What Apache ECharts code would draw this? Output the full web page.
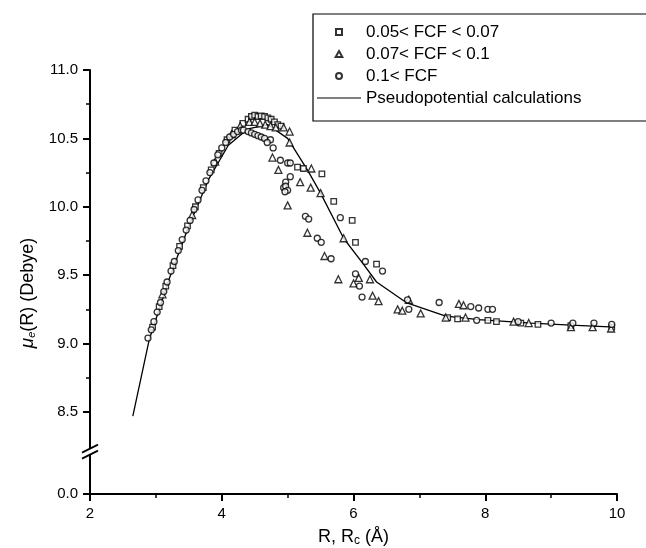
<!DOCTYPE html>
<html><head><meta charset="utf-8">
<script src="https://cdn.jsdelivr.net/npm/echarts@6/dist/echarts.min.js"></script>
<style>html,body{margin:0;padding:0;background:#fff}#c{width:646px;height:548px}</style>
</head><body><div id="c"></div>
<script>
// ---- data (x = R in Å, y = dipole in Debye) ----
const squares = [
  [2.95,9.12],[3.05,9.27],[3.15,9.42],[3.26,9.57],[3.36,9.71],[3.48,9.86],[3.60,10.0],[3.72,10.14],
  [3.84,10.27],[3.96,10.39],[4.08,10.49],[4.20,10.56],[4.32,10.61],[4.40,10.64],
  [4.45,10.66],[4.50,10.67],[4.55,10.66],[4.60,10.665],[4.65,10.66],[4.70,10.65],[4.75,10.64],
  [4.80,10.62],[4.85,10.60],[4.90,10.59],
  [5.15,10.29],[5.24,10.28],[5.52,10.24],[5.70,10.04],[5.98,9.90],[6.03,9.74],[6.35,9.58],
  [7.43,9.19],[7.58,9.18],[8.04,9.17],[8.17,9.16],[8.54,9.15],[8.80,9.14],[9.30,9.13],[9.92,9.12]
];
const triangles = [
  [3.10,9.36],[3.55,9.94],[3.90,10.33],[4.15,10.53],[4.28,10.59],
  [4.42,10.62],[4.50,10.62],[4.58,10.61],[4.66,10.60],[4.74,10.59],[4.82,10.58],[4.94,10.58],
  [5.03,10.55],[5.03,10.47],[4.77,10.36],[4.86,10.27],[5.19,10.18],[5.36,10.28],[5.35,10.14],
  [5.50,10.10],[5.00,10.01],[5.30,9.81],[5.56,9.64],[5.85,9.77],[5.77,9.47],[6.00,9.44],
  [6.08,9.48],[6.25,9.47],[6.29,9.35],[6.38,9.31],[6.67,9.25],[6.74,9.24],[6.84,9.32],
  [7.02,9.22],[7.40,9.19],[7.60,9.29],[7.67,9.28],[7.70,9.19],[8.43,9.16],[8.66,9.15],
  [9.30,9.12],[9.63,9.12],[9.91,9.11]
];
const circles = [
  [2.88,9.04],[2.93,9.10],[2.97,9.16],[3.02,9.23],[3.07,9.30],[3.12,9.38],[3.17,9.45],[3.23,9.53],
  [3.28,9.60],[3.34,9.68],[3.40,9.76],[3.46,9.83],[3.52,9.90],[3.58,9.98],[3.64,10.05],[3.70,10.12],
  [3.76,10.19],[3.82,10.25],[3.88,10.32],[3.94,10.38],[4.00,10.43],[4.06,10.47],[4.12,10.51],
  [4.18,10.53],[4.24,10.55],[4.30,10.56],
  [4.33,10.56],[4.40,10.55],[4.45,10.54],[4.50,10.53],[4.55,10.52],[4.60,10.51],[4.65,10.50],
  [4.74,10.49],[4.69,10.47],[4.78,10.43],[4.89,10.34],[5.00,10.32],[5.04,10.32],[4.97,10.18],
  [5.04,10.22],[4.94,10.14],[4.97,10.15],[5.00,10.12],[4.96,10.11],[5.27,9.93],[5.32,9.91],
  [5.45,9.77],[5.51,9.74],[5.66,9.62],[5.80,9.92],[6.03,9.51],[6.09,9.42],[6.13,9.34],
  [6.18,9.60],[6.44,9.53],[6.82,9.32],[6.84,9.25],[7.30,9.30],[7.78,9.27],[7.90,9.26],
  [8.04,9.25],[8.11,9.25],[7.87,9.17],[8.50,9.16],[9.00,9.15],[9.33,9.15],[9.65,9.15],[9.92,9.14]
];
const pseudo = [
  [2.65,8.47],[2.90,9.03],[3.20,9.47],[3.50,9.86],[3.80,10.2],[4.10,10.45],[4.40,10.57],
  [4.70,10.60],[5.00,10.50],[5.30,10.27],[5.50,10.10],[5.85,9.77],[6.15,9.58],[6.35,9.45],
  [6.80,9.30],[7.40,9.20],[7.90,9.175],[8.70,9.15],[9.30,9.135],[9.97,9.12]
];
const seriesNames = ['0.05< FCF < 0.07','0.07< FCF < 0.1','0.1< FCF','Pseudopotential calculations'];
const xTicks = [2,4,6,8,10];
const yMajor = [7.9,8.5,9.0,9.5,10.0,10.5,11.0];   // 7.9 is the broken-axis position labelled 0.0
const yMinor = [8.75,9.25,9.75,10.25,10.75];
const yBreakValue = 8.21;

const FONT = 'Liberation Sans, Arial, sans-serif';
const chart = echarts.init(document.getElementById('c'));
const mk = {color:'#fff', borderColor:'#000', borderWidth:1.3};
chart.setOption({
  animation:false,
  backgroundColor:'#fff',
  textStyle:{fontFamily:FONT, color:'#000'},
  grid:{left:90, right:29, top:70, bottom:54, containLabel:false, outerBoundsMode:'none'},
  legend:{
    orient:'vertical', left:313, top:14,
    padding:[8,200,13,4],
    borderColor:'#000', borderWidth:1.2,
    itemWidth:44, itemHeight:6, itemGap:2, symbolKeepAspect:true,
    textStyle:{fontSize:17, lineHeight:20, color:'#000', fontFamily:FONT},
    data:[
      {name:seriesNames[0], icon:'path://M0,0H10V10H0Z'},
      {name:seriesNames[1], icon:'path://M5,0L10,9H0Z'},
      {name:seriesNames[2], icon:'circle'},
      {name:seriesNames[3], icon:'path://M0,0H60V1.2H0Z', itemStyle:{color:'#000', borderWidth:0}}
    ]
  },
  xAxis:{
    type:'value', min:2, max:10, interval:2,
    axisLine:{lineStyle:{color:'#000', width:2}},
    axisTick:{length:7, lineStyle:{width:2, color:'#000'}},
    minorTick:{show:true, splitNumber:2, length:4, lineStyle:{width:1.5, color:'#000'}},
    splitLine:{show:false},
    axisLabel:{fontSize:15, color:'#000', margin:12, fontFamily:FONT},
    name:'R, R{sub|c} (Å)', nameLocation:'middle', nameGap:34,
    nameTextStyle:{fontSize:18, color:'#000', fontFamily:FONT,
      rich:{sub:{fontSize:12, verticalAlign:'bottom', padding:[7,0,0,0], fontFamily:FONT}}}
  },
  yAxis:[{
    type:'value', min:7.9, max:11.0,
    axisLine:{lineStyle:{color:'#000', width:2}},
    axisTick:{length:7, customValues:yMajor, lineStyle:{width:2, color:'#000'}},
    axisLabel:{fontSize:15, color:'#000', margin:12, customValues:yMajor, fontFamily:FONT,
      formatter:v => (v < 8 ? '0.0' : Number(v).toFixed(1))},
    splitLine:{show:false},
    name:'{it|μ}{sub|e}(R) (Debye)', nameLocation:'middle', nameGap:50, nameRotate:90,
    nameTextStyle:{fontSize:18, color:'#000', fontFamily:FONT, padding:[0,22,0,0],
      rich:{it:{fontSize:19, fontStyle:'italic', fontFamily:FONT},
            sub:{fontSize:11, fontStyle:'italic', padding:[9,0,0,0], fontFamily:FONT}}}
  },{
    type:'value', min:7.9, max:11.0, position:'left',
    axisLine:{show:false},
    axisTick:{length:4, customValues:yMinor, lineStyle:{width:1.5, color:'#000'}},
    axisLabel:{show:false},
    splitLine:{show:false}
  }],
  series:[
    {name:seriesNames[0], type:'scatter', symbol:'rect', symbolSize:5.5, data:squares, itemStyle:mk, z:3},
    {name:seriesNames[1], type:'scatter', symbol:'triangle', symbolSize:7, data:triangles, itemStyle:mk, z:3},
    {name:seriesNames[2], type:'scatter', symbol:'circle', symbolSize:6, data:circles, itemStyle:mk, z:3},
    {name:seriesNames[3], type:'line', data:pseudo, showSymbol:false, symbol:'none',
     lineStyle:{color:'#000', width:1.3}, itemStyle:{color:'#000'}, z:2}
  ]
});
// axis break mark "//"
const p = chart.convertToPixel({xAxisIndex:0, yAxisIndex:0}, [2, yBreakValue]);
const bx = p[0], by = p[1];
chart.setOption({graphic:[
  {type:'rect', shape:{x:bx-3, y:by-3, width:6, height:6}, style:{fill:'#fff'}, z:100},
  {type:'line', shape:{x1:bx-8, y1:by+1, x2:bx+8, y2:by-7}, style:{stroke:'#000', lineWidth:1.8}, z:101},
  {type:'line', shape:{x1:bx-8, y1:by+7, x2:bx+8, y2:by-1}, style:{stroke:'#000', lineWidth:1.8}, z:101}
]});
</script>
</body></html>
